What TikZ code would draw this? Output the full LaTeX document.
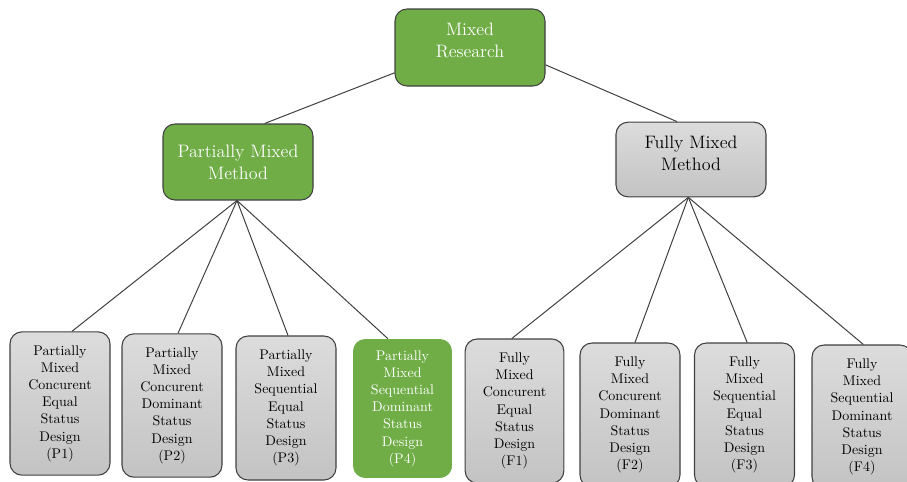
\documentclass[tikz,border=0pt]{standalone}
\definecolor{mgreen}{HTML}{70AD47}
\definecolor{bord}{HTML}{404040}
\definecolor{gtop}{HTML}{DCDCDC}
\definecolor{gbot}{HTML}{C3C3C3}
\begin{document}
\begin{tikzpicture}[x=0.75pt,y=-0.75pt,
  topbox/.style={draw=bord,line width=0.8pt,rounded corners=9pt,align=center,
    font=\fontsize{13.5}{16.5}\selectfont,inner sep=0pt},
  greenbox/.style={topbox,fill=mgreen,text=white},
  graybox/.style={topbox,top color=gtop,bottom color=gbot,text=black},
  leafbox/.style={draw=bord,line width=0.8pt,rounded corners=9pt,align=center,
    font=\fontsize{10.5}{12.9}\selectfont,inner sep=0pt,
    minimum width=75pt,minimum height=107.5pt,top color=gtop,bottom color=gbot},
  link/.style={draw=bord,line width=0.75pt}]
\useasboundingbox (0,0) rectangle (907,482);
\clip (0,0) rectangle (907,482);
\node[greenbox,minimum width=112.5pt,minimum height=57.75pt,text depth=11pt] (MR) at (470,47.5) {Mixed\\Research};
\node[greenbox,minimum width=112.5pt,minimum height=57pt] (PM) at (238,162) {Partially Mixed\\Method};
\node[graybox,minimum width=112.5pt,minimum height=56pt,text depth=10pt] (FM) at (691,159.5) {Fully Mixed\\Method};

\node[leafbox] (P1) at (60,403.5) {Partially\\Mixed\\Concurent\\Equal\\Status\\Design\\(P1)};
\node[leafbox] (P2) at (172,405.5) {Partially\\Mixed\\Concurent\\Dominant\\Status\\Design\\(P2)};
\node[leafbox,minimum height=108pt] (P3) at (286,408) {Partially\\Mixed\\Sequential\\Equal\\Status\\Design\\(P3)};
\node[leafbox,draw=none,fill=mgreen,top color=mgreen,bottom color=mgreen,text=white,minimum width=74pt,minimum height=104pt] (P4) at (402.5,408.5) {Partially\\Mixed\\Sequential\\Dominant\\Status\\Design\\(P4)};
\node[leafbox,minimum width=74pt,minimum height=108pt] (F1) at (514.5,411) {Fully\\Mixed\\Concurent\\Equal\\Status\\Design\\(F1)};
\node[leafbox,minimum height=108pt] (F2) at (630,415) {Fully\\Mixed\\Concurent\\Dominant\\Status\\Design\\(F2)};
\node[leafbox,minimum height=108pt] (F3) at (744.5,415) {Fully\\Mixed\\Sequential\\Equal\\Status\\Design\\(F3)};
\node[leafbox,minimum height=108pt] (F4) at (862,417) {Fully\\Mixed\\Sequential\\Dominant\\Status\\Design\\(F4)};

\draw[link] ([yshift=-19pt]MR.west) -- ([xshift=20pt]PM.north);
\draw[link] ([yshift=-13pt]MR.east) -- ([xshift=-10.5pt]FM.north);

\draw[link] ([xshift=-0.75pt]PM.south) -- ([xshift=9pt]P1.north);
\draw[link] ([xshift=-0.75pt]PM.south) -- ([xshift=4.5pt]P2.north);
\draw[link] ([xshift=-0.75pt]PM.south) -- ([xshift=1.5pt]P3.north);
\draw[link] ([xshift=-0.75pt]PM.south) -- ([xshift=-11pt]P4.north);

\draw[link] ([xshift=-2pt]FM.south) -- ([xshift=-2pt]F1.north);
\draw[link] ([xshift=-2pt]FM.south) -- ([xshift=3.75pt]F2.north);
\draw[link] ([xshift=-2pt]FM.south) -- ([xshift=2pt]F3.north);
\draw[link] ([xshift=-2pt]FM.south) -- ([xshift=1pt]F4.north);
\end{tikzpicture}
\end{document}
